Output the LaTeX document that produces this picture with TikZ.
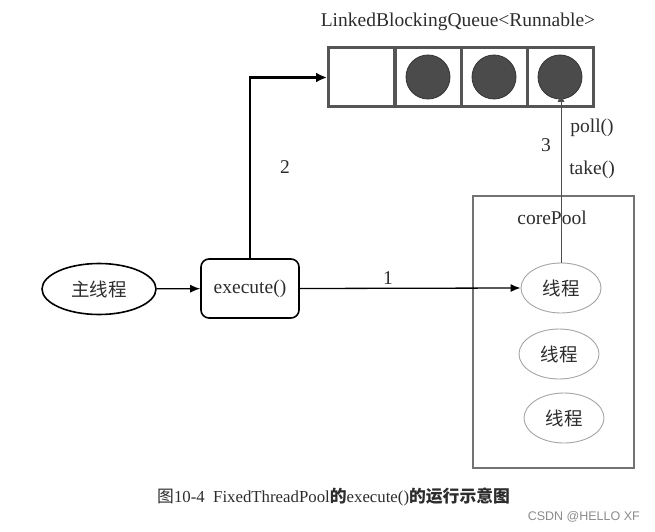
\documentclass[tikz,border=0pt]{standalone}
\usepackage{fontspec}
\setmainfont{Liberation Serif}
\newfontfamily\cjk{Noto Sans CJK SC}
\newfontfamily\wmfont{Liberation Sans}
\usetikzlibrary{arrows.meta,shapes.geometric}
\definecolor{ink}{RGB}{45,45,45}
\definecolor{qgray}{RGB}{85,85,85}
\definecolor{dotgray}{RGB}{75,75,75}
\definecolor{poolgray}{RGB}{115,115,115}
\definecolor{thgray}{RGB}{165,165,165}
\tikzset{
  lbl/.style={font=\fontsize{19.5}{21}\selectfont, text=ink, inner sep=0pt},
  cell/.style={draw=qgray, line width=3pt, minimum width=66pt, minimum height=59pt, inner sep=0pt},
  dot/.style={circle, draw=black!80, line width=0.8pt, fill=dotgray, minimum size=44pt, inner sep=0pt},
  thread/.style={ellipse, draw=thgray, line width=0.9pt, minimum width=80pt, minimum height=50pt, inner sep=0pt, font=\cjk\fontsize{18.5}{20}\selectfont, text=ink},
  mainth/.style={ellipse, draw=black, line width=1.6pt, minimum width=114pt, minimum height=51pt, inner sep=0pt, font=\cjk\fontsize{18.5}{20}\selectfont, text=ink},
  execbox/.style={draw=black, line width=1.6pt, rounded corners=8pt, minimum width=98pt, minimum height=59pt, inner sep=0pt, font=\fontsize{19.5}{21}\selectfont, text=ink},
  pool/.style={draw=poolgray, line width=2pt, minimum width=161pt, minimum height=272pt, inner sep=0pt},
  flow/.style={draw=black, line width=1.3pt, -{Latex[length=10pt,width=8pt]}},
  thickflow/.style={draw=black, line width=2.8pt, -{Latex[length=11pt,width=10pt]}},
  fetch/.style={draw=black!70, line width=0.9pt, -{Latex[length=9pt,width=7pt]}}
}
\begin{document}
\begin{tikzpicture}[x=1pt,y=-1pt]
  \useasboundingbox[fill=white] (0,0) rectangle (655,532);

  % queue of tasks
  \node[lbl] (qtitle) at (458,22) {LinkedBlockingQueue<Runnable>};
  \node[cell] (c1) at (361.5,77.5) {};
  \node[cell] (c2) at (428.5,77.5) {};
  \node[cell] (c3) at (494.5,77.5) {};
  \node[cell] (c4) at (560.5,77.5) {};
  \node[dot] (d2) at (428,77) {};
  \node[dot] (d3) at (494,77) {};
  \node[dot] (d4) at (560,77) {};
  \coordinate (tip) at (561,93);

  % core pool with its worker threads
  \node[pool] (pool) at (553.5,331.5) {};
  \node[lbl] (pooltitle) at (552,218) {corePool};
  \node[thread] (t1) at (561,288) {线程};
  \node[thread] (t2) at (559,354) {线程};
  \node[thread] (t3) at (564,418) {线程};

  % caller side
  \node[mainth] (main) at (99,289) {主线程};
  \node[execbox] (exec) at (250,288.5) {execute()};

  % connectors
  \draw[flow] (main) -- (exec);
  \draw[flow] (exec.east) -- (t1.west);
  \draw[thickflow] (exec.north) |- (c1.west);
  \draw[fetch] (t1.north) -- (tip);

  % connector labels
  \node[lbl] (n1) at (388,278) {1};
  \node[lbl] (n2) at (285,167) {2};
  \node[lbl] (n3) at (546,145) {3};
  \node[lbl] (poll) at (592,128) {poll()};
  \node[lbl] (take) at (592,170) {take()};

  % caption and mark
  \node[anchor=west, inner sep=0pt, text=ink, font=\fontsize{16.8}{18}\selectfont] (cap) at (157,497)
    {{\cjk 图}10-4\enspace FixedThreadPool{\cjk\bfseries 的}execute(){\cjk\bfseries 的运行示意图}};
  \node[anchor=east, inner sep=0pt, text=black!45, font=\wmfont\fontsize{12.5}{14}\selectfont] (mark) at (640,517) {CSDN @HELLO XF};
\end{tikzpicture}
\end{document}
